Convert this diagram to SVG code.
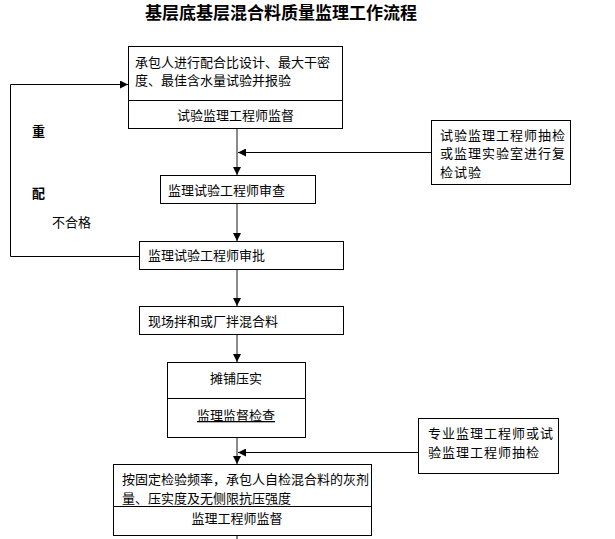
<svg xmlns="http://www.w3.org/2000/svg" width="615" height="539" viewBox="0 0 615 539">
<defs>
<marker id="ah" viewBox="0 0 8 8" refX="8" refY="4" markerWidth="8" markerHeight="8" markerUnits="userSpaceOnUse" orient="auto">
<path d="M0,0 L8,4 L0,8 z" fill="#000"/>
</marker>
</defs>
<style>
text{font-family:"Noto Sans CJK SC","Liberation Sans",sans-serif;font-size:13px;fill:#000}
.box{fill:#fff;stroke:#000;stroke-width:1}
.div{stroke:#000;stroke-width:1}
.v{stroke:#6e6e6e;stroke-width:1.6;fill:none}
.h{stroke:#000;stroke-width:1;fill:none}
.c{text-anchor:middle}
.sp{letter-spacing:1px}
</style>
<rect width="615" height="539" fill="#fff"/>
<text x="145" y="19" style="font-size:17px;font-weight:bold">基层底基层混合料质量监理工作流程</text>

<g id="connectors">
<line class="v" x1="237" y1="128.5" x2="237" y2="175" marker-end="url(#ah)"/>
<line class="h" x1="431" y1="152.5" x2="238" y2="152.5" marker-end="url(#ah)"/>
<line class="v" x1="237" y1="203.5" x2="237" y2="241" marker-end="url(#ah)"/>
<line class="v" x1="237" y1="269.5" x2="237" y2="306" marker-end="url(#ah)"/>
<line class="v" x1="237" y1="334.5" x2="237" y2="362" marker-end="url(#ah)"/>
<line class="v" x1="237" y1="437.5" x2="237" y2="464" marker-end="url(#ah)"/>
<line class="h" x1="418" y1="452.5" x2="238" y2="452.5" marker-end="url(#ah)"/>
<line class="h" x1="237" y1="535.5" x2="237" y2="539"/>
<polyline class="h" points="140,256.5 10.5,256.5 10.5,84.5 128,84.5" marker-end="url(#ah)"/>
</g>

<g id="n1">
<rect class="box" x="128.5" y="46.5" width="214" height="82"/>
<line class="div" x1="128.5" y1="100.5" x2="342.5" y2="100.5"/>
<text x="135" y="67">承包人进行配合比设计、最大干密</text>
<text x="135" y="85">度、最佳含水量试验并报验</text>
<text class="c" x="235.5" y="120">试验监理工程师监督</text>
</g>

<g id="n2">
<rect class="box" x="160.5" y="175.5" width="155" height="28"/>
<text x="168" y="195">监理试验工程师审查</text>
</g>

<g id="n3">
<rect class="box" x="139.5" y="241.5" width="204" height="28"/>
<text x="148" y="260">监理试验工程师审批</text>
</g>

<g id="n4">
<rect class="box" x="139.5" y="306.5" width="204" height="28"/>
<text x="148" y="326">现场拌和或厂拌混合料</text>
</g>

<g id="n5">
<rect class="box" x="167.5" y="362.5" width="138" height="75"/>
<line class="div" x1="167.5" y1="398.5" x2="305.5" y2="398.5"/>
<text class="c" x="236" y="383">摊铺压实</text>
<text class="c" x="236" y="420" text-decoration="underline">监理监督检查</text>
</g>

<g id="n6">
<rect class="box" x="113.5" y="464.5" width="258" height="71"/>
<line class="div" x1="113.5" y1="506.5" x2="371.5" y2="506.5"/>
<text x="122" y="484">按固定检验频率，承包人自检混合料的灰剂</text>
<text x="122" y="503">量、压实度及无侧限抗压强度</text>
<text class="c" x="237" y="523">监理工程师监督</text>
</g>

<g id="n7">
<rect class="box" x="431.5" y="120.5" width="139" height="64"/>
<text class="sp" x="440" y="140">试验监理工程师抽检</text>
<text class="sp" x="440" y="158">或监理实验室进行复</text>
<text class="sp" x="440" y="177">检试验</text>
</g>

<g id="n8">
<rect class="box" x="418.5" y="418.5" width="140" height="55"/>
<text class="sp" x="428" y="438">专业监理工程师或试</text>
<text class="sp" x="428" y="457">验监理工程师抽检</text>
</g>

<g id="labels">
<text x="32" y="136" style="font-weight:bold">重</text>
<text x="32" y="198" style="font-weight:bold">配</text>
<text x="52" y="227">不合格</text>
</g>
</svg>
